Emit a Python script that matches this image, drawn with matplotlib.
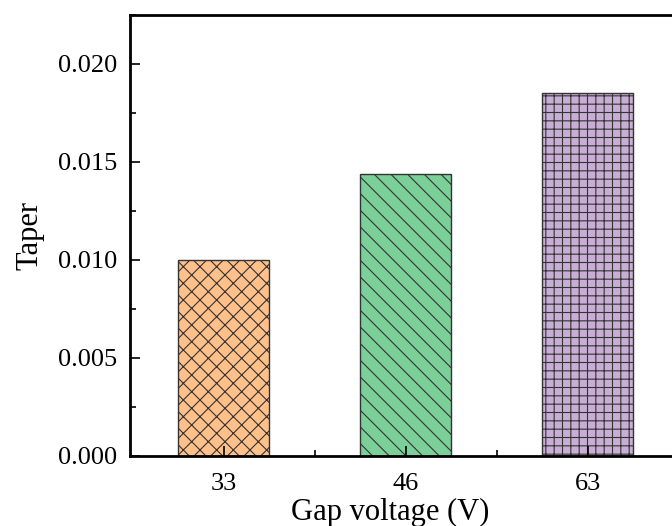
import matplotlib.pyplot as plt
from matplotlib.ticker import MultipleLocator, FixedLocator

# data
voltages = ["33", "46", "63"]
taper = [0.0100, 0.0144, 0.0185]
colors = ["#FFC08A", "#7BD09A", "#C8AED5"]
hatches = ["xx", "\\\\", "++"]

plt.rcParams['font.family'] = ['Liberation Serif', 'DejaVu Serif']
plt.rcParams['hatch.color'] = '#333333'
plt.rcParams['hatch.linewidth'] = 0.8

fig = plt.figure(figsize=(6.72, 5.26), dpi=100)
# axes right edge runs past the figure, as in the original
ax = fig.add_axes([130 / 672, 70 / 526, 549 / 672, 441 / 526])

x = range(len(voltages))
for i in x:
    ax.bar(i, taper[i], width=0.5, color=colors[i], hatch=hatches[i],
           edgecolor='#333333', linewidth=1.0)

ax.set_xlim(-0.516, 2.5)
ax.set_ylim(0, 0.0225)
ax.set_xticks(list(x))
ax.set_xticklabels(voltages)
ax.xaxis.set_minor_locator(FixedLocator([0.5, 1.5]))
ax.yaxis.set_major_locator(MultipleLocator(0.005))
ax.yaxis.set_minor_locator(MultipleLocator(0.0025))
ax.yaxis.set_major_formatter(plt.FormatStrFormatter('%.3f'))

ax.tick_params(which='both', direction='in', width=1.2, labelsize=19)
ax.tick_params(which='major', length=7, pad=9)
ax.tick_params(which='minor', length=4)
ax.tick_params(axis='x', which='major', pad=12)
for s in ax.spines.values():
    s.set_linewidth(2)

ax.set_xlabel("Gap voltage (V)", fontsize=22)
ax.set_ylabel("Taper", fontsize=22)
ax.xaxis.set_label_coords((390 - 130) / 549, -0.095)
ax.yaxis.set_label_coords(-0.155, 0.5)

fig.savefig("out.png", dpi=100)
